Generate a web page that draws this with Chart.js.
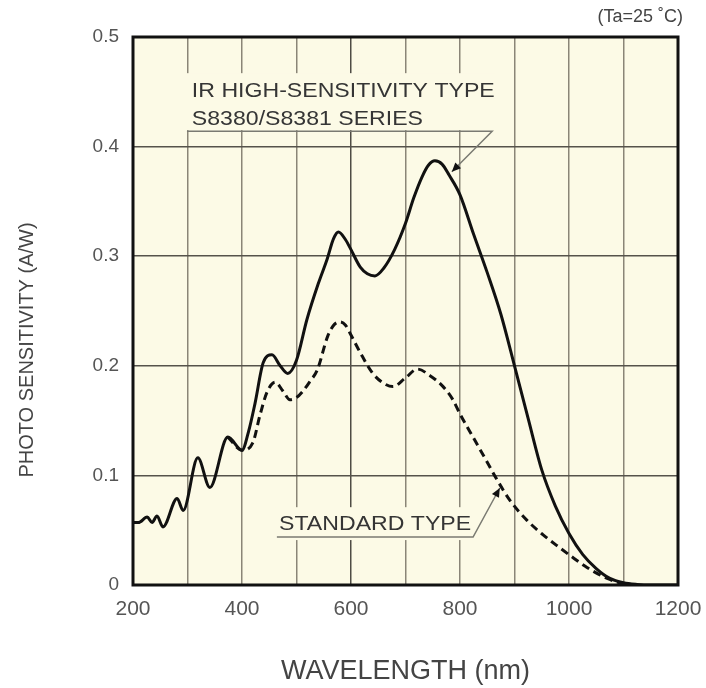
<!DOCTYPE html>
<html><head><meta charset="utf-8">
<script src="https://cdn.jsdelivr.net/npm/chart.js@4.4.1/dist/chart.umd.min.js"></script>
<style>html,body{margin:0;padding:0;background:#fff;}#wrap{width:706px;height:688px;position:relative;}</style>
</head><body><div id="wrap"><canvas id="c"></canvas></div>
<script>
// ---- data ----
const irWavelengths = [200,210,226,235,244,255,281,292,319,341,374,400,412,424,439,455,470,484,500,519,540,556,568,577,590,600,617,630,644,660,680,700,715,730,742,754,767,780,800,825,850,875,900,925,950,975,1000,1025,1050,1075,1100,1125,1150,1200];
const irSensitivity = [0.057,0.057,0.062,0.057,0.063,0.053,0.079,0.068,0.116,0.089,0.135,0.123,0.140,0.166,0.203,0.210,0.200,0.193,0.205,0.242,0.275,0.297,0.316,0.322,0.315,0.306,0.290,0.284,0.282,0.289,0.306,0.330,0.353,0.372,0.383,0.387,0.384,0.374,0.356,0.320,0.285,0.247,0.200,0.152,0.105,0.072,0.047,0.028,0.015,0.006,0.002,0.0005,0,0];
const stdWavelengths = [374,400,420,433,446,461,475,488,500,512,525,538,558,570,580,590,598,617,640,660,677,700,722,745,769,787,800,825,850,868,892,923,952,983,1010,1033,1070,1100,1120];
const stdSensitivity = [0.135,0.123,0.130,0.155,0.176,0.185,0.177,0.169,0.171,0.177,0.186,0.196,0.228,0.238,0.240,0.237,0.230,0.212,0.193,0.184,0.181,0.189,0.197,0.191,0.181,0.169,0.156,0.134,0.112,0.096,0.077,0.059,0.046,0.034,0.024,0.016,0.006,0.001,0];
const xTickLabels = ['200','400','600','800','1000','1200'];
const yTickLabels = ['0','0.1','0.2','0.3','0.4','0.5'];
const irLabel = ['IR HIGH-SENSITIVITY TYPE','S8380/S8381 SERIES'];
const stdLabel = 'STANDARD TYPE';
const noteText = '(Ta=25 \u02DAC)';
const xTitle = 'WAVELENGTH (nm)';
const yTitle = 'PHOTO SENSITIVITY (A/W)';

const FONT = "'Liberation Sans', Arial, Helvetica, sans-serif";
const BG = '#fcfae6';

function pts(xs, ys){ return xs.map((x,i)=>({x:x, y:ys[i]})); }

const deco = {
  id: 'deco',
  beforeDraw(chart){
    const {ctx, chartArea:a} = chart;
    ctx.save(); ctx.fillStyle = BG; ctx.fillRect(a.left, a.top, a.right-a.left, a.bottom-a.top); ctx.restore();
  },
  beforeDatasetsDraw(chart){
    const {ctx, scales:{x, y}} = chart;
    const X = v => x.getPixelForValue(v), Y = v => y.getPixelForValue(v);
    ctx.save();
    ctx.fillStyle = BG;
    ctx.fillRect(X(299), Y(0.467), X(864)-X(299), Y(0.415)-Y(0.467));
    ctx.fillRect(X(461), Y(0.071), X(827)-X(461), Y(0.041)-Y(0.071));
    ctx.fillStyle = '#353535';
    ctx.font = '21px ' + FONT;
    ctx.textBaseline = 'alphabetic';
    const txt = (s, px, py) => { ctx.save(); ctx.translate(px, py); ctx.scale(1.1, 1); ctx.fillText(s, 0, 0); ctx.restore(); };
    txt(irLabel[0], X(308), Y(0.445));
    txt(irLabel[1], X(308), Y(0.420));
    txt(stdLabel, X(468), Y(0.050));
    ctx.strokeStyle = '#7a7a72'; ctx.lineWidth = 1.5;
    ctx.beginPath();
    ctx.moveTo(X(299), Y(0.414)); ctx.lineTo(X(859), Y(0.414)); ctx.lineTo(X(785), Y(0.377));
    ctx.moveTo(X(464), Y(0.0438)); ctx.lineTo(X(824), Y(0.0438)); ctx.lineTo(X(873), Y(0.0885));
    ctx.stroke();
    ctx.fillStyle = '#444'; ctx.font = '18px ' + FONT; ctx.textAlign = 'right'; ctx.textBaseline = 'middle';
    ctx.fillText(noteText, chart.chartArea.right + 5, 17);
    ctx.save();
    ctx.translate(27, 350); ctx.rotate(-Math.PI/2);
    ctx.textAlign = 'center'; ctx.font = '20px ' + FONT; ctx.fillStyle = '#444';
    ctx.fillText(yTitle, 0, 0);
    ctx.restore();
    ctx.restore();
  },
  afterDatasetsDraw(chart){
    const {ctx, chartArea:a, scales:{x, y}} = chart;
    const X = v => x.getPixelForValue(v), Y = v => y.getPixelForValue(v);
    const arrow = (fx, fy, tx, ty) => {
      const ang = Math.atan2(ty-fy, tx-fx), L = 9, W = 4;
      ctx.beginPath();
      ctx.moveTo(tx, ty);
      ctx.lineTo(tx - L*Math.cos(ang) + W*Math.sin(ang), ty - L*Math.sin(ang) - W*Math.cos(ang));
      ctx.lineTo(tx - L*Math.cos(ang) - W*Math.sin(ang), ty - L*Math.sin(ang) + W*Math.cos(ang));
      ctx.closePath(); ctx.fill();
    };
    ctx.save();
    ctx.fillStyle = '#111';
    arrow(X(859), Y(0.414), X(785), Y(0.377));
    arrow(X(824), Y(0.0438), X(873), Y(0.0885));
    ctx.strokeStyle = '#111'; ctx.lineWidth = 3;
    ctx.strokeRect(a.left, a.top, a.right-a.left, a.bottom-a.top);
    ctx.restore();
  }
};

new Chart(document.getElementById('c'), {
  type: 'line',
  data: {
    datasets: [
      { label: 'IR', data: pts(irWavelengths, irSensitivity), borderColor: '#111', borderWidth: 3, pointRadius: 0, cubicInterpolationMode: 'monotone', fill: false, order: 0 },
      { label: 'STD', data: pts(stdWavelengths, stdSensitivity), borderColor: '#111', borderWidth: 3, borderDash: [8,5], pointRadius: 0, cubicInterpolationMode: 'monotone', fill: false, order: 1 }
    ]
  },
  options: {
    responsive: true, maintainAspectRatio: false, animation: false,
    layout: { padding: { top: 37, right: 28, left: 0, bottom: 0 } },
    plugins: { legend: { display: false }, tooltip: { enabled: false } },
    scales: {
      x: {
        type: 'linear', min: 200, max: 1200,
        afterFit(s){ s.height = 103; s.paddingLeft = 0; s.paddingRight = 0; },
        border: { display: false },
        grid: { drawTicks: false, lineWidth: 1.5, color: c => c.tick && c.tick.value === 600 ? '#4f4c45' : '#8a8577' },
        ticks: { stepSize: 100, autoSkip: false, maxRotation: 0, padding: 12, color: '#555', font: { family: FONT, size: 21 },
          callback: v => { const s = String(v); return xTickLabels.includes(s) ? s : ''; } },
        title: { display: true, text: xTitle, color: '#444', font: { family: FONT, size: 27 }, padding: { top: 0, bottom: 0 } }
      },
      y: {
        min: 0, max: 0.5,
        afterFit(s){ s.width = 133; s.paddingTop = 0; s.paddingBottom = 0; },
        border: { display: false },
        grid: { drawTicks: false, lineWidth: 1.5, color: '#55524b' },
        ticks: { stepSize: 0.1, padding: 14, color: '#555', font: { family: FONT, size: 19 },
          callback: v => yTickLabels[Math.round(v*10)] },
        title: { display: false }
      }
    }
  },
  plugins: [deco]
});
</script>
</body></html>
